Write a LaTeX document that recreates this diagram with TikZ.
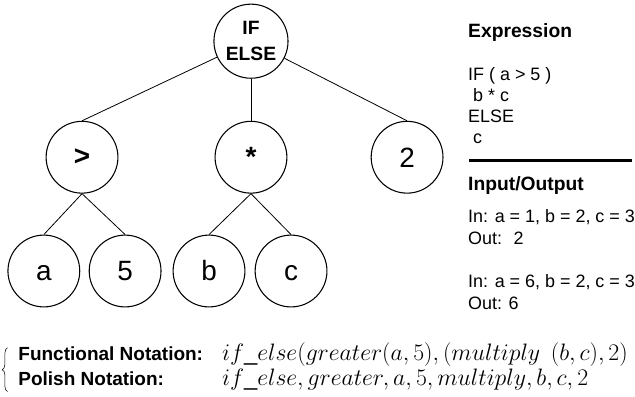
\documentclass[tikz,border=0pt]{standalone}
\usepackage{fix-cm}
\usepackage{fontspec}
\setmainfont{Liberation Sans}
\usetikzlibrary{decorations.pathreplacing}

\begin{document}
\begin{tikzpicture}[
  tnode/.style={draw, thick, circle, minimum size=1.9cm, inner sep=0pt},
  leaf/.style={tnode, text height=15pt, text depth=0pt, font=\fontsize{21}{24}\selectfont},
  head/.style={anchor=base west, inner sep=0pt, font=\bfseries\fontsize{14.5}{17}\selectfont},
  txt/.style={anchor=base west, inner sep=0pt, align=left, font=\fontsize{13.5}{17.25}\selectfont}
]
\useasboundingbox (0,0) rectangle (16.80,10.48);

% Expression tree
\node[tnode, minimum size=1.96cm, align=center, font=\bfseries\fontsize{14.5}{19.5}\selectfont] (root) at (6.64,9.39) {IF\\ELSE};
\node[tnode, font=\bfseries\fontsize{21}{24}\selectfont] (gt) at (2.17,6.32) {>};
\node[tnode, font=\bfseries\fontsize{21}{24}\selectfont] (mul) at (6.64,6.32) {*};
\node[leaf] (two) at (10.77,6.32) {2};
\node[leaf] (a) at (1.16,3.31) {a};
\node[leaf] (five) at (3.31,3.31) {5};
\node[leaf] (b) at (5.53,3.31) {b};
\node[leaf] (c) at (7.70,3.31) {c};

\draw[semithick] (root) -- (gt.north);
\draw[semithick] (root) -- (mul);
\draw[semithick] (root) -- (two.north);
\draw[semithick] (gt.south) -- (a.north);
\draw[semithick] (gt.south) -- (five.north);
\draw[semithick] (mul.south) -- (b.north);
\draw[semithick] (mul.south) -- (c.north);

% Expression and input/output (base = last line)
\node[head] (exphead) at (12.38,9.50) {Expression};
\node[txt, font=\fontsize{13.5}{15.75}\selectfont] (expr) at (12.38,6.69)
  {IF ( a > 5 )\\\hspace*{0.28em}b * c\\ELSE\\\hspace*{0.28em}c};
\coordinate (rl) at (12.41,6.24);
\coordinate (rr) at (16.72,6.24);
\draw[line width=2pt] (rl) -- (rr);
\node[head] (iohead) at (12.38,5.45) {Input/Output};
\node[txt] (io1) at (12.38,4.00) {In: a = 1, b = 2, c = 3\\Out: \ 2};
\node[txt] (io2) at (12.38,2.28) {In: a = 6, b = 2, c = 3\\Out: 6};

% Notations
\node[head, font=\bfseries\fontsize{14.3}{17}\selectfont] (fnlabel) at (0.48,0.93) {Functional Notation:};
\node[head, font=\bfseries\fontsize{14.3}{17}\selectfont] (pnlabel) at (0.48,0.27) {Polish Notation:};
\node[anchor=base west, inner sep=0pt, font=\fontsize{17.9}{21}\selectfont] (fnexpr) at (5.87,0.93)
  {$if\_else(greater(a,5),(multiply\ \,(b,c),2)$};
\node[anchor=base west, inner sep=0pt, font=\fontsize{17.9}{21}\selectfont] (pnexpr) at (5.87,0.27)
  {$if\_else,greater,a,5,multiply,b,c,2$};
\coordinate (bb) at (0.20,0.12);
\coordinate (bt) at (0.20,1.28);
\draw[decorate, decoration={brace, amplitude=4pt}] (bb) -- (bt);
\end{tikzpicture}
\end{document}
